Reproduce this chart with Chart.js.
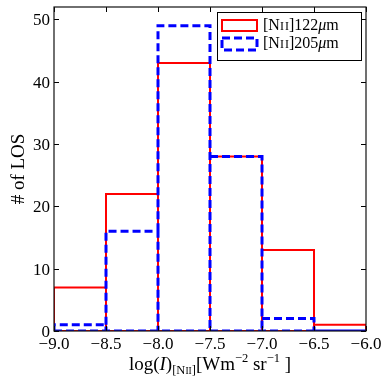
<!DOCTYPE html>
<html>
<head>
<meta charset="utf-8">
<script src="https://cdn.jsdelivr.net/npm/chart.js@4/dist/chart.umd.min.js"></script>
<style>
  html, body { margin: 0; padding: 0; background: #fff; }
  canvas { display: block; }
</style>
</head>
<body>
<canvas id="c" width="385" height="385" style="width:385px;height:385px"></canvas>
<script>
// ---- data ----
const binEdges = [-9.0, -8.5, -8.0, -7.5, -7.0, -6.5, -6.0];
const countsN122 = [7, 22, 43, 28, 13, 1];
const countsN205 = [1, 16, 49, 28, 2, 0];
const xTickValues = [-9.0, -8.5, -8.0, -7.5, -7.0, -6.5, -6.0];
const yTickValues = [0, 10, 20, 30, 40, 50];
const seriesNames = ['[NII]122μm', '[NII]205μm'];
const yTitle = '# of LOS';

const SERIF = "'Liberation Serif', 'Times New Roman', serif";
Chart.defaults.font.family = SERIF;
Chart.defaults.color = '#000';

// Outline of unfilled histogram bars, each edge drawn once
function barOutlines(edges, counts) {
  const n = counts.length;
  const pts = [{x: edges[0], y: 0}, {x: edges[n], y: 0}, {x: edges[n], y: null}];
  for (let i = 0; i < n; i++) {
    const h = counts[i];
    const prev = i === 0 ? 0 : counts[i - 1];
    const start = Math.min(prev, h);
    pts.push({x: edges[i], y: start}, {x: edges[i], y: h}, {x: edges[i + 1], y: h}, {x: edges[i + 1], y: 0});
    pts.push({x: edges[i + 1], y: null});
  }
  return pts;
}

function drawRich(ctx, segs, x, y, align) {
  let total = 0;
  const widths = segs.map(s => { ctx.font = s.font; const w = ctx.measureText(s.t).width; total += w; return w; });
  let cx = align === 'center' ? x - total / 2 : x;
  segs.forEach((s, i) => {
    ctx.font = s.font;
    ctx.fillText(s.t, cx, y + (s.dy || 0));
    cx += widths[i];
  });
}

function labelSegs(name) {
  const m = name.match(/^\[N(II)\](\d+)μm$/);
  return [
    {t: '[N', font: `16px ${SERIF}`},
    {t: m[1].split('').join('\u200A'), font: `12px ${SERIF}`},
    {t: ']' + m[2], font: `16px ${SERIF}`},
    {t: 'μ', font: `italic 16px ${SERIF}`},
    {t: 'm', font: `16px ${SERIF}`}
  ];
}

const fmt = v => (v < 0 ? '\u2212' : '') + Math.abs(v).toFixed(1);

const decorPlugin = {
  id: 'decor',
  afterDraw(chart) {
    const ctx = chart.ctx;
    const a = chart.chartArea;
    const xs = chart.scales.x, ys = chart.scales.y;
    ctx.save();
    // inward ticks
    ctx.strokeStyle = '#000';
    ctx.lineWidth = 1;
    const tl = 5;
    xs.ticks.forEach(t => {
      const px = Math.round(xs.getPixelForValue(t.value)) + 0.5;
      ctx.beginPath();
      ctx.moveTo(px, a.bottom); ctx.lineTo(px, a.bottom - tl);
      ctx.moveTo(px, a.top); ctx.lineTo(px, a.top + tl);
      ctx.stroke();
    });
    ys.ticks.forEach(t => {
      const py = Math.round(ys.getPixelForValue(t.value)) + 0.5;
      ctx.beginPath();
      ctx.moveTo(a.left, py); ctx.lineTo(a.left + tl, py);
      ctx.moveTo(a.right, py); ctx.lineTo(a.right - tl, py);
      ctx.stroke();
    });
    // frame
    ctx.strokeStyle = '#111';
    ctx.lineWidth = 1.2;
    ctx.strokeRect(a.left, a.top, a.right - a.left, a.bottom - a.top);

    // tick labels
    ctx.fillStyle = '#000';
    ctx.font = `17px ${SERIF}`;
    ctx.textAlign = 'center';
    ctx.textBaseline = 'alphabetic';
    xs.ticks.forEach(t => {
      ctx.fillText(fmt(t.value), xs.getPixelForValue(t.value), a.bottom + 18);
    });
    ctx.textAlign = 'right';
    ys.ticks.forEach(t => {
      ctx.fillText(String(t.value), a.left - 4, ys.getPixelForValue(t.value) + 6);
    });

    // legend
    const lx = 217, ly = 12, lw = 144, lh = 48;
    ctx.textAlign = 'left';
    ctx.fillStyle = '#fff';
    ctx.fillRect(lx, ly, lw, lh);
    ctx.strokeStyle = '#000';
    ctx.lineWidth = 1;
    ctx.strokeRect(lx + 0.5, ly + 0.5, lw, lh);
    const rows = [{y0: 20, y1: 31, base: 30}, {y0: 38, y1: 50, base: 48}];
    chart.data.datasets.forEach((ds, i) => {
      const r = rows[i];
      ctx.save();
      ctx.strokeStyle = ds.borderColor;
      ctx.lineWidth = ds.borderWidth;
      ctx.setLineDash(ds.borderDash || []);
      ctx.strokeRect(222, r.y0, 35, r.y1 - r.y0);
      ctx.restore();
      ctx.fillStyle = '#000';
      ctx.textBaseline = 'alphabetic';
      drawRich(ctx, labelSegs(ds.label), 263, r.base, 'left');
    });

    // x title
    ctx.fillStyle = '#000';
    ctx.textBaseline = 'alphabetic';
    const cxTitle = (a.left + a.right) / 2;
    drawRich(ctx, [
      {t: 'log(', font: `19px ${SERIF}`},
      {t: 'I', font: `italic 19px ${SERIF}`},
      {t: ')', font: `19px ${SERIF}`},
      {t: '[N', font: `12.5px ${SERIF}`, dy: 4},
      {t: 'II', font: `9.5px ${SERIF}`, dy: 4},
      {t: ']', font: `12.5px ${SERIF}`, dy: 4},
      {t: '[Wm', font: `19px ${SERIF}`},
      {t: '\u22122', font: `12.5px ${SERIF}`, dy: -8},
      {t: ' sr', font: `19px ${SERIF}`},
      {t: '\u22121', font: `12.5px ${SERIF}`, dy: -8},
      {t: ' ]', font: `19px ${SERIF}`}
    ], cxTitle, 370, 'center');

    // y title
    ctx.save();
    ctx.translate(24, (a.top + a.bottom) / 2);
    ctx.rotate(-Math.PI / 2);
    ctx.font = `19px ${SERIF}`;
    ctx.textAlign = 'center';
    ctx.fillText(yTitle, 0, 0);
    ctx.restore();

    ctx.restore();
  }
};

new Chart(document.getElementById('c'), {
  type: 'scatter',
  data: {
    datasets: [
      {
        label: seriesNames[0],
        data: barOutlines(binEdges, countsN122),
        showLine: true, spanGaps: false,
        borderColor: '#ff0000', borderWidth: 2,
        pointRadius: 0, fill: false, order: 1, clip: 0
      },
      {
        label: seriesNames[1],
        data: barOutlines(binEdges, countsN205),
        showLine: true, spanGaps: false,
        borderColor: '#0000ff', borderWidth: 3, borderDash: [8, 4],
        pointRadius: 0, fill: false, order: 0, clip: 0
      }
    ]
  },
  options: {
    responsive: false,
    animation: false,
    layout: { padding: { top: 7, right: 19, left: 0, bottom: 0 } },
    plugins: { legend: { display: false }, tooltip: { enabled: false } },
    scales: {
      x: {
        type: 'linear', min: -9.0, max: -6.0,
        afterBuildTicks: s => { s.ticks = xTickValues.map(v => ({value: v})); },
        afterFit: s => { s.height = 54; },
        grid: { display: false, drawTicks: false },
        border: { display: false },
        ticks: { display: false, callback: fmt, autoSkip: false }
      },
      y: {
        type: 'linear', min: 0, max: 52,
        afterBuildTicks: s => { s.ticks = yTickValues.map(v => ({value: v})); },
        afterFit: s => { s.width = 54; },
        grid: { display: false, drawTicks: false },
        border: { display: false },
        ticks: { display: false, autoSkip: false }
      }
    }
  },
  plugins: [decorPlugin]
});
</script>
</body>
</html>
